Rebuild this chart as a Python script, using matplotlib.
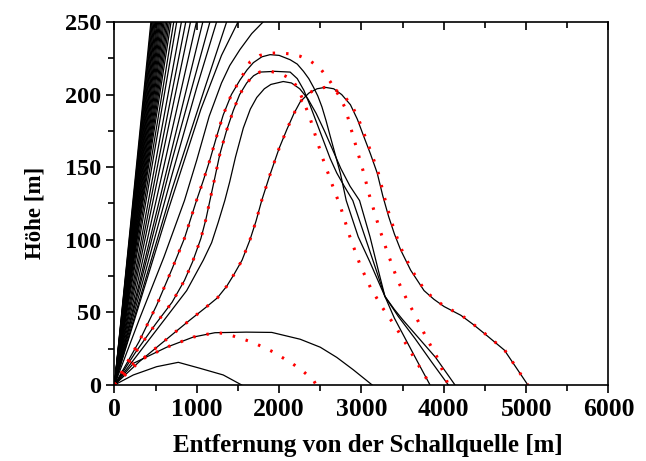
import matplotlib.pyplot as plt
from matplotlib.ticker import MultipleLocator

# ray end points at the top of the plot (x in m at 250 m height), nearly straight rays
fan_top_x = [442, 451, 460, 470, 480, 491, 501, 513, 524, 536, 548, 561, 575,
             589, 603, 619, 635, 651, 668, 687, 720, 756, 813, 866, 923, 996, 1073]

# slightly bent rays that still leave the plot at the top
bent1_x = [0, 700, 1159]
bent1_y = [0, 155, 250]
bent2_x = [0, 700, 1000, 1240]
bent2_y = [0, 145, 205, 250]
bent3_x = [0, 700, 1100, 1362]
bent3_y = [0, 135, 205, 250]
bent4_x = [0, 650, 1050, 1300, 1500]
bent4_y = [0, 120, 190, 227, 250]
bent5_x = [0, 300, 600, 850, 1000, 1150, 1300, 1400, 1524, 1667, 1805]
bent5_y = [0, 45, 88, 127, 155, 185, 208, 220, 231, 242, 250]

# black rays coming back to the ground
a_x = [0, 229, 512, 775, 1038, 1321, 1545]
a_y = [0, 6.9, 12.6, 15.6, 11.5, 6.9, 0]
b_x = [0, 233, 634, 957, 1220, 1600, 1911, 2256, 2500, 2700, 2900, 3130]
b_y = [0, 15, 26, 33, 36, 36.4, 36.2, 31.5, 26, 19, 10.5, 0]
c_x = [0, 300, 600, 900, 1100, 1250, 1363, 1450, 1550, 1646, 1720, 1788, 1890, 2000,
       2094, 2180, 2256, 2360, 2460, 2560, 2663, 2760, 2866, 2950, 3029, 3110, 3191,
       3260, 3330, 3400, 3476, 3598, 3760, 3880, 4004, 4207, 4350, 4492, 4736, 5021]
c_y = [0, 16, 30, 44, 53, 60, 68, 76, 86, 100, 113, 127, 145, 163,
       176, 187, 195, 201, 204, 205, 204, 200, 193, 183, 171, 159, 146,
       130, 116, 104, 93, 79, 65, 59, 54, 48, 42, 35.5, 24, 0]
d_x = [0, 350, 634, 877, 1079, 1180, 1260, 1340, 1400, 1470, 1565, 1650, 1728, 1820,
       1900, 2050, 2150, 2250, 2350, 2450, 2550, 2650, 2750, 2860, 2977, 3104, 3200,
       3285, 3400, 3550, 3700, 3833]
d_y = [0, 26, 47, 65, 86, 98, 112, 127, 140, 157, 177, 190, 198, 204,
       207, 209, 208, 204, 197, 187, 175, 162, 149, 137, 127, 102, 80,
       61, 46, 30, 14, 0]
e_x = [0, 150, 300, 513, 700, 850, 996, 1080, 1159, 1240, 1321, 1420, 1524, 1610, 1687,
       1790, 1890, 2000, 2134, 2220, 2296, 2360, 2418, 2470, 2520, 2570, 2622, 2680,
       2744, 2815, 2961, 3100, 3200, 3285, 3400, 3500, 3700, 3900, 4136]
e_y = [0, 15, 30, 55, 80, 101, 127, 141, 155, 171, 186, 200, 210, 217, 222,
       226, 227.5, 227, 224, 221, 216, 211, 205, 199, 191.5, 182, 171, 159,
       145.7, 127, 102, 85, 72, 61, 52, 45, 32, 19, 0]
f_x = [0, 250, 500, 700, 850, 950, 1050, 1110, 1159, 1220, 1280, 1360, 1443, 1520, 1606,
       1690, 1768, 1950, 2134, 2220, 2300, 2380, 2460, 2540, 2620, 2700, 2790, 2895,
       3043, 3150, 3285, 3450, 3650, 3850, 4055]
f_y = [0, 22, 42, 57, 72, 85, 101, 114, 127, 143, 159, 175, 189, 200, 208,
       213, 215.5, 216, 215.5, 211, 203, 192, 180, 168, 156, 146, 137, 127,
       102, 84, 61, 47, 32, 16, 0]

# red dotted rays (second model)
b2_x = [0, 233, 634, 957, 1220, 1317, 1443, 1679, 1923, 2167, 2300, 2420, 2450]
b2_y = [0, 15, 26, 33, 36, 35.6, 33.7, 29.4, 22.9, 14.5, 9, 3, 0]
c2_x = [0, 300, 600, 900, 1100, 1250, 1363, 1450, 1550, 1646, 1720, 1788, 1890, 2000,
        2094, 2180, 2256, 2360, 2460, 2560, 2663, 2770, 2880, 2965, 3045, 3125, 3205,
        3275, 3345, 3415, 3490, 3612, 3772, 3890, 4014, 4215, 4355, 4497, 4740, 5021]
c2_y = [0, 16, 30, 44, 53, 60, 68, 76, 86, 100, 113, 127, 145, 163,
        176, 187, 195, 201, 204, 205, 204, 200, 193, 183, 171, 159, 146,
        130, 116, 104, 93, 79, 65, 59, 54, 48, 42, 35.5, 24, 0]
e2_x = [0, 150, 300, 513, 700, 850, 996, 1080, 1159, 1240, 1321, 1420, 1524, 1646, 1768,
        1890, 2012, 2134, 2256, 2378, 2500, 2622, 2723, 2805, 2866, 2947, 3029, 3089,
        3142, 3211, 3305, 3435, 3549, 3671, 3793, 3915, 4033, 4050]
e2_y = [0, 15, 30, 55, 80, 101, 127, 141, 155, 171, 186, 200, 210, 222.5, 227,
        228.5, 228.7, 228, 226.4, 223.2, 218, 208.8, 199.6, 190.5, 177.9, 161.8, 145.7, 132,
        122, 109, 93, 72.7, 59, 45.9, 32, 19.5, 3.4, 0]
f2_x = [0, 250, 500, 700, 850, 950, 1050, 1110, 1159, 1220, 1280, 1360, 1443, 1520, 1606,
        1690, 1768, 1900, 2030, 2154, 2230, 2300, 2380, 2450, 2530, 2600, 2670, 2744,
        2857, 2988, 3110, 3252, 3415, 3557, 3699, 3801, 3830]
f2_y = [0, 22, 42, 57, 72, 85, 101, 114, 127, 143, 159, 175, 189, 200, 208,
        213, 215.6, 216, 214, 210.6, 204, 195, 183, 170, 156, 145, 134, 123,
        102.5, 82, 67, 53.5, 40, 26.8, 13, 3.4, 0]

plt.rcParams['font.family'] = ['Liberation Serif', 'DejaVu Serif']
plt.rcParams['font.weight'] = 'bold'

fig = plt.figure(figsize=(6.46, 4.61), dpi=100)
ax = fig.add_axes([0.1772, 0.1649, 0.7647, 0.7874])

lw = 0.9
for xt in fan_top_x:
    ax.plot([0, xt], [0, 250], c='k', lw=lw)
for xs, ys in [(bent1_x, bent1_y), (bent2_x, bent2_y), (bent3_x, bent3_y),
               (bent4_x, bent4_y), (bent5_x, bent5_y), (a_x, a_y), (b_x, b_y),
               (c_x, c_y), (d_x, d_y), (e_x, e_y), (f_x, f_y)]:
    ax.plot(xs, ys, c='k', lw=lw)

for xs, ys in [(b2_x, b2_y), (c2_x, c2_y), (e2_x, e2_y), (f2_x, f2_y)]:
    ax.plot(xs, ys, c='red', lw=2.2, ls=(0, (0.8, 3.6)))

ax.set_xlim(0, 6000)
ax.set_ylim(0, 250)
ax.xaxis.set_major_locator(MultipleLocator(1000))
ax.xaxis.set_minor_locator(MultipleLocator(500))
ax.yaxis.set_major_locator(MultipleLocator(50))
ax.yaxis.set_minor_locator(MultipleLocator(25))
ax.tick_params(which='both', direction='out', width=1.2, top=True, right=False)
ax.tick_params(axis='x', labelsize=18.5)
ax.tick_params(axis='y', labelsize=17.5)
ax.tick_params(which='major', length=6)
ax.tick_params(which='minor', length=4)
# top ticks point inwards
for t in ax.xaxis.get_ticklines(minor=False)[1::2] + ax.xaxis.get_ticklines(minor=True)[1::2]:
    t.set_marker(3)
for sp in ax.spines.values():
    sp.set_linewidth(1.2)

plt.xlabel('Entfernung von der Schallquelle [m]', fontsize=18, fontweight='bold', labelpad=9)
plt.ylabel('Höhe [m]', fontsize=16.5, fontweight='bold', labelpad=14)
ax.xaxis.label.set_x(0.513)
ax.yaxis.label.set_y(0.475)
fig.savefig('out.png', dpi=100)
